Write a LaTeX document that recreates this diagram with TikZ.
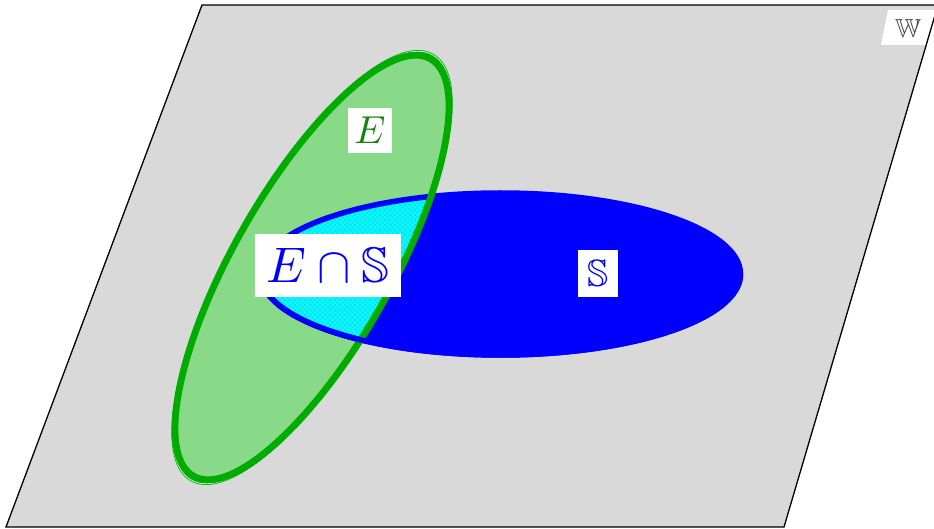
\documentclass[tikz,border=0pt]{standalone}
\usepackage{amssymb}
\usepackage{graphicx}
\definecolor{planegray}{RGB}{217,217,217}
\definecolor{gfill}{RGB}{136,218,136}
\definecolor{gline}{RGB}{0,172,0}
\definecolor{etext}{RGB}{20,130,20}
\definecolor{cyanfill}{RGB}{0,255,255}
\definecolor{hatchc}{RGB}{40,180,220}
\definecolor{wtext}{RGB}{60,60,60}
\tikzset{
  greenell/.style={shift={(312,267.5)}, rotate=60.4},
  labelbox/.style={fill=white, inner sep=0pt, anchor=center},
  hatchline/.style={hatchc, line width=0.35pt, opacity=0.7},
}
\begin{document}
\begin{tikzpicture}[x=1pt,y=-1pt]
\useasboundingbox (0,0) rectangle (934,529);
\begin{scope}
\clip (0,0) rectangle (934,529);
% plane
\fill[planegray] (202,5) -- (938,5) -- (784,527) -- (6,527) -- cycle;
% W label box
\fill[white] (888,10) -- (945,10) -- (940,45) -- (881,45) -- cycle;
\draw[line width=1.3pt, line join=miter] (202,5) -- (938,5) -- (784,527) -- (6,527) -- cycle;
\node[text=wtext, inner sep=0pt] (w) at (908,29) {\scalebox{2.6}{$\mathbb{W}$}};
% green ellipse fill
\fill[gfill, greenell] (0,0) ellipse [x radius=240, y radius=79];
% blue ellipse
\fill[blue] (500.5,274) ellipse [x radius=240, y radius=81];
% intersection
\begin{scope}
\clip[greenell] (0,0) ellipse [x radius=240, y radius=79];
\clip (500.5,274) ellipse [x radius=240, y radius=81];
\fill[cyanfill] (240,180) rectangle (460,360);
\foreach \c in {-110,-105,...,260} {
  \draw[hatchline] (\c+190,190) -- (\c+360,360);
}
\foreach \c in {440,445,...,800} {
  \draw[hatchline] (\c-190,190) -- (\c-360,360);
}
\end{scope}
\draw[blue, line width=5.5pt] (500.5,274) ellipse [x radius=240, y radius=81];
% green outline (doubled)
\draw[gline, greenell, line width=0.8pt, double=white!60!gfill, double distance=0.9pt] (0,0) ellipse [x radius=244.5, y radius=80];
\draw[gline, greenell, line width=6.8pt] (0,0) ellipse [x radius=240, y radius=79];
% blue border lower half over green
\begin{scope}
\clip (0,274) rectangle (934,529);
\draw[blue, line width=5.5pt] (500.5,274) ellipse [x radius=240, y radius=81];
\end{scope}
\end{scope}
% labels
\node[labelbox, minimum width=44pt, minimum height=45pt, text=etext] (e) at (370,130.5) {\scalebox{3.9}{$E$}};
\node[labelbox, minimum width=146pt, minimum height=63pt, text=blue] (es) at (328,265.5) {\scalebox{5.0}{$E\cap\mathbb{S}$}};
\node[labelbox, minimum width=40pt, minimum height=47pt, text=blue] (s) at (598,273.5) {\scalebox{3.8}{$\mathbb{S}$}};
\end{tikzpicture}
\end{document}
